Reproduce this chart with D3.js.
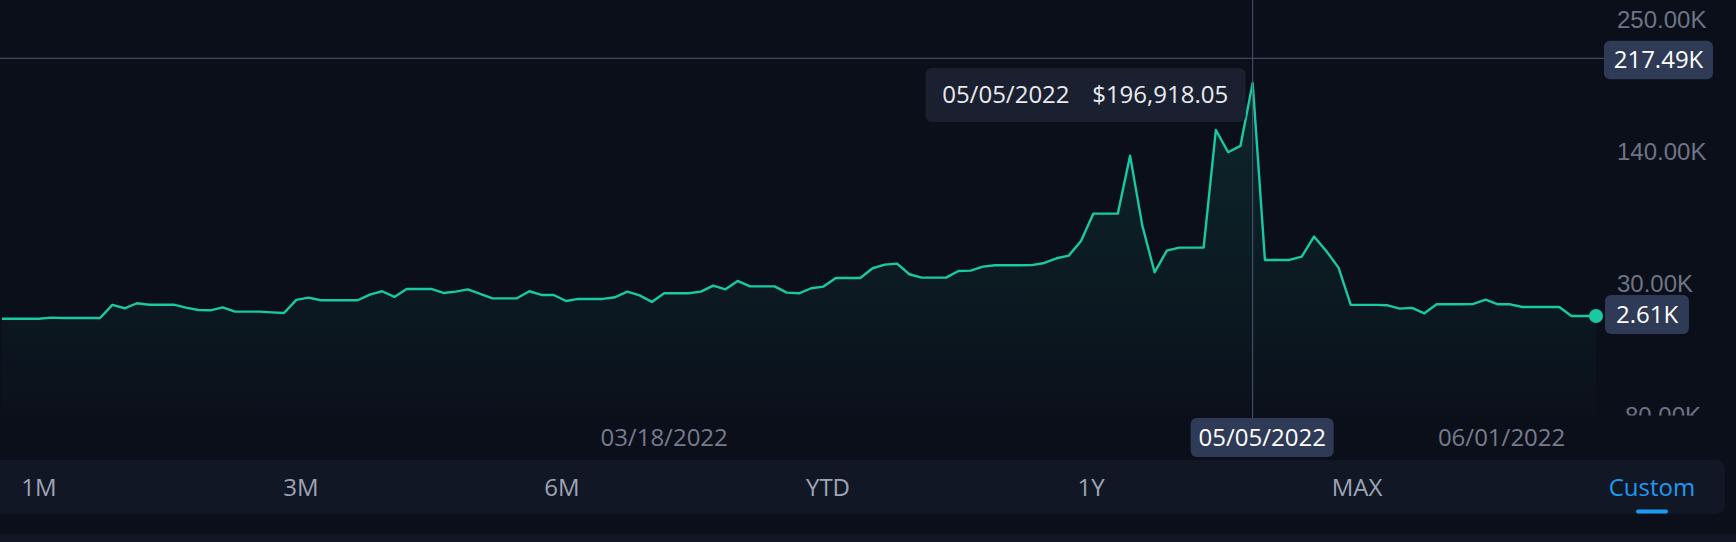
<!DOCTYPE html>
<html>
<head>
<meta charset="utf-8">
<script src="https://cdn.jsdelivr.net/npm/d3@7/dist/d3.min.js"></script>
<style>
  html, body { margin: 0; padding: 0; background: #0b0f1a; }
  svg { display: block; font-family: "Open Sans", "Noto Sans", sans-serif; }
</style>
</head>
<body>
<svg id="chart" width="1736" height="542"></svg>
<script>
// ---- data (values in thousands of USD, one point per day) ----
const values = [
  0.3, 0.3, 0.3, 0.3, 1.2, 0.9, 0.9, 0.9, 0.9, 11.8,
  9.0, 13.2, 12.0, 12.0, 12.0, 9.6, 7.6, 7.3, 9.8, 6.2,
  6.2, 6.2, 5.6, 5.1, 16.0, 17.9, 15.7, 15.7, 15.7, 15.7,
  20.4, 23.2, 18.5, 25.1, 25.1, 25.1, 21.8, 22.9, 24.8, 21.1,
  17.3, 17.3, 17.3, 23.2, 20.1, 20.1, 15.1, 16.8, 16.8, 16.8,
  18.2, 22.9, 19.8, 14.3, 21.5, 21.5, 21.5, 22.9, 27.9, 24.8,
  31.8, 27.3, 27.3, 27.3, 22.1, 21.5, 25.7, 27.1, 34.3, 34.3,
  34.3, 42.4, 45.4, 46.2, 37.4, 34.6, 34.6, 34.6, 40.1, 40.4,
  43.7, 44.9, 44.9, 44.9, 45.0, 46.8, 50.7, 52.9, 65.1, 87.9,
  87.9, 87.9, 136.3, 77.9, 39.0, 57.1, 59.6, 59.6, 59.6, 157.7,
  139.1, 144.4, 196.918, 49.3, 49.3, 49.3, 52.1, 68.8, 56.8, 42.9,
  11.8, 11.8, 11.8, 11.5, 8.7, 9.3, 4.8, 12.3, 12.3, 12.3,
  12.6, 16.2, 12.3, 12.3, 10.1, 10.1, 10.1, 10.1, 2.6, 2.6,
  2.61
];
const yTickValues = [250, 140, 30, -80];
const yTickLabels = ["250.00K", "140.00K", "30.00K", "-80.00K"];
const xTickLabels = ["03/18/2022", "06/01/2022"];
const xTickIndex = [54, 122.3];
const hoverIndex = 102;
const hoverDate = "05/05/2022";
const hoverValueText = "$196,918.05";
const crosshairValue = 217.49;
const crosshairLabel = "217.49K";
const lastLabel = "2.61K";
const ranges = ["1M", "3M", "6M", "YTD", "1Y", "MAX", "Custom"];
const activeRange = "Custom";

// ---- scales ----
const svg = d3.select("#chart");
const x = d3.scaleLinear().domain([0, values.length - 1]).range([2, 1596]);
const y = d3.scaleLinear().domain([-80, 250]).range([415, 19.3]);

const defs = svg.append("defs");
defs.append("clipPath").attr("id", "plotClip")
  .append("rect").attr("x", 0).attr("y", 0).attr("width", 1736).attr("height", 415.5);
const grad = defs.append("linearGradient").attr("id", "areaGrad")
  .attr("gradientUnits", "userSpaceOnUse")
  .attr("x1", 0).attr("x2", 0).attr("y1", y(d3.max(values))).attr("y2", 415);
grad.append("stop").attr("offset", "0%").attr("stop-color", "#19c9a1").attr("stop-opacity", 0.13);
grad.append("stop").attr("offset", "100%").attr("stop-color", "#19c9a1").attr("stop-opacity", 0.01);

const plot = svg.append("g").attr("clip-path", "url(#plotClip)");

// y axis labels
const yAxis = d3.axisRight(y).tickValues(yTickValues)
  .tickFormat((d, i) => yTickLabels[i]).tickSize(0).tickPadding(0);
const yg = plot.append("g").attr("transform", "translate(1617,0)").call(yAxis);
yg.select(".domain").remove();
yg.selectAll("text").attr("fill", "#6e7485").attr("font-size", 24)
  .attr("dy", "0.35em").attr("text-anchor", "start");

// area + line
const area = d3.area().x((d, i) => x(i)).y0(415).y1(d => y(d));
const line = d3.line().x((d, i) => x(i)).y(d => y(d));
plot.append("path").datum(values).attr("d", area).attr("fill", "url(#areaGrad)");

// crosshair
const cx = x(hoverIndex);
const cy = y(crosshairValue);
svg.append("line").attr("x1", cx).attr("x2", cx).attr("y1", 0).attr("y2", 418)
  .attr("stroke", "#4c5677").attr("stroke-width", 1);
svg.append("line").attr("x1", 0).attr("x2", 1604).attr("y1", cy).attr("y2", cy)
  .attr("stroke", "#4c5677").attr("stroke-width", 1);

plot.append("path").datum(values).attr("d", line).attr("fill", "none")
  .attr("stroke", "#19c9a1").attr("stroke-width", 2.4).attr("stroke-linejoin", "round");

// last point dot + label
const lastI = values.length - 1;
svg.append("circle").attr("cx", x(lastI)).attr("cy", y(values[lastI])).attr("r", 7).attr("fill", "#19c9a1");
svg.append("rect").attr("x", 1605).attr("y", y(values[lastI]) - 21).attr("width", 84).attr("height", 39)
  .attr("rx", 6).attr("fill", "#2f3a56");
svg.append("text").attr("x", 1647).attr("y", y(values[lastI]) - 1.5).attr("dy", "0.35em")
  .attr("text-anchor", "middle").attr("fill", "#ffffff").attr("font-size", 24).text(lastLabel);

// crosshair value label
svg.append("rect").attr("x", 1604).attr("y", cy - 17.5).attr("width", 109).attr("height", 38.5)
  .attr("rx", 6).attr("fill", "#2f3a56");
svg.append("text").attr("x", 1658.5).attr("y", cy + 1.5).attr("dy", "0.35em")
  .attr("text-anchor", "middle").attr("fill", "#ffffff").attr("font-size", 24).text(crosshairLabel);

// tooltip
const py = y(values[hoverIndex]);
const tipX = cx - 327, tipY = py - 15;
svg.append("rect").attr("x", tipX).attr("y", tipY).attr("width", 320).attr("height", 54)
  .attr("rx", 6).attr("fill", "#1b2030");
svg.append("text").attr("x", tipX + 16.5).attr("y", tipY + 27).attr("dy", "0.35em")
  .attr("fill", "#e9ebf0").attr("font-size", 24).text(hoverDate);
svg.append("text").attr("x", tipX + 166.5).attr("y", tipY + 27).attr("dy", "0.35em")
  .attr("fill", "#e9ebf0").attr("font-size", 24).text(hoverValueText);

// x tick labels
svg.selectAll("text.xt").data(xTickLabels).enter().append("text").attr("class", "xt")
  .attr("x", (d, i) => x(xTickIndex[i])).attr("y", 438).attr("dy", "0.35em")
  .attr("text-anchor", "middle").attr("fill", "#767c8e").attr("font-size", 24).text(d => d);

// hover date label on x axis
svg.append("rect").attr("x", cx - 62).attr("y", 418).attr("width", 143).attr("height", 39)
  .attr("rx", 6).attr("fill", "#2f3a56");
svg.append("text").attr("x", cx + 9.5).attr("y", 438).attr("dy", "0.35em")
  .attr("text-anchor", "middle").attr("fill", "#ffffff").attr("font-size", 24).text(hoverDate);

// range selector bar
svg.append("rect").attr("x", -20).attr("y", 460).attr("width", 1745).attr("height", 54)
  .attr("rx", 9).attr("fill", "#121726");
svg.append("rect").attr("x", -20).attr("y", 534).attr("width", 1776).attr("height", 30)
  .attr("rx", 6).attr("fill", "#121726");
const rangeX = d3.scalePoint().domain(ranges).range([39, 1652]);
const rangePos = [39, 301, 562, 828, 1091, 1357, 1652];
svg.selectAll("text.rg").data(ranges).enter().append("text").attr("class", "rg")
  .attr("x", (d, i) => rangePos[i]).attr("y", 488).attr("dy", "0.35em")
  .attr("text-anchor", "middle").attr("font-size", 24)
  .attr("fill", d => d === activeRange ? "#1b9cf0" : "#9ea4b5").text(d => d);
svg.append("rect").attr("x", 1636).attr("y", 509.5).attr("width", 32).attr("height", 4)
  .attr("rx", 2).attr("fill", "#1b9cf0");
</script>
</body>
</html>
